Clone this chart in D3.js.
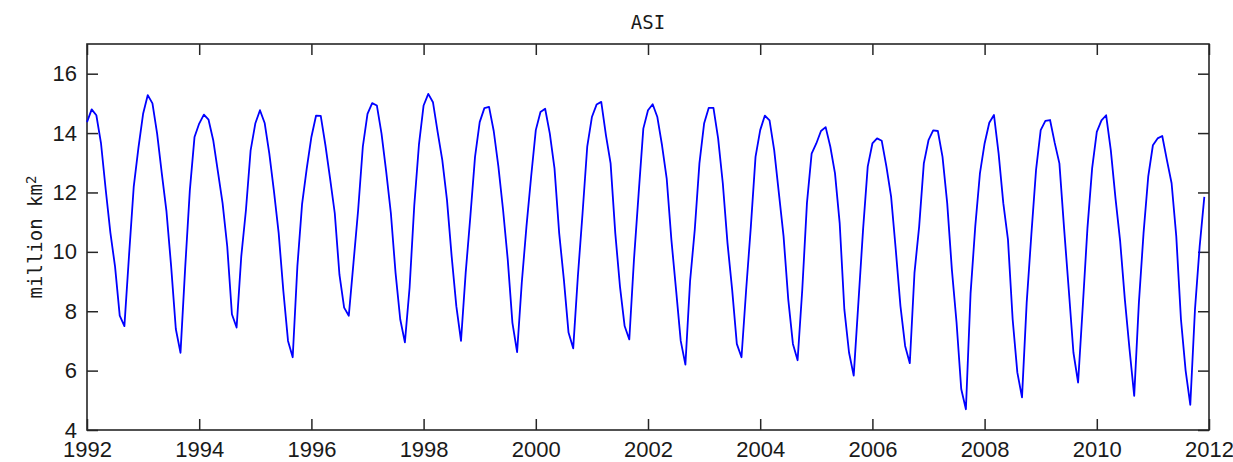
<!DOCTYPE html>
<html>
<head>
<meta charset="utf-8">
<script src="https://cdn.jsdelivr.net/npm/d3@7"></script>
<style>
  html, body { margin: 0; padding: 0; background: #fff; }
  svg { display: block; }
</style>
</head>
<body>
<svg id="chart" width="1233" height="462"></svg>
<script>
'use strict';

// Monthly extent (million km2), Jan..Dec
const y1992 = [14.37, 14.80, 14.60, 13.65, 12.10, 10.65, 9.50, 7.85, 7.50, 9.90, 12.20, 13.50];
const y1993 = [14.65, 15.28, 15.00, 13.98, 12.64, 11.36, 9.51, 7.40, 6.60, 9.46, 12.08, 13.87];
const y1994 = [14.32, 14.62, 14.45, 13.76, 12.70, 11.64, 10.18, 7.90, 7.45, 9.85, 11.41, 13.42];
const y1995 = [14.32, 14.77, 14.34, 13.31, 12.03, 10.63, 8.68, 7.00, 6.45, 9.51, 11.60, 12.80];
const y1996 = [13.87, 14.59, 14.58, 13.59, 12.47, 11.30, 9.23, 8.12, 7.85, 9.63, 11.41, 13.54];
const y1997 = [14.65, 15.01, 14.93, 13.98, 12.70, 11.30, 9.29, 7.73, 6.95, 8.79, 11.55, 13.60];
const y1998 = [14.93, 15.32, 15.04, 14.04, 13.09, 11.75, 9.85, 8.17, 7.00, 9.29, 11.19, 13.20];
const y1999 = [14.37, 14.84, 14.88, 14.07, 12.87, 11.41, 9.74, 7.61, 6.62, 8.96, 10.85, 12.53];
const y2000 = [14.10, 14.71, 14.82, 13.98, 12.81, 10.63, 9.07, 7.28, 6.75, 9.18, 11.30, 13.54];
const y2001 = [14.54, 14.96, 15.05, 13.93, 12.98, 10.63, 8.84, 7.50, 7.05, 9.74, 11.97, 14.15];
const y2002 = [14.77, 14.97, 14.54, 13.59, 12.47, 10.41, 8.73, 7.00, 6.20, 9.01, 10.74, 12.98];
const y2003 = [14.32, 14.85, 14.85, 13.82, 12.31, 10.30, 8.73, 6.90, 6.45, 8.73, 10.85, 13.20];
const y2004 = [14.10, 14.59, 14.43, 13.42, 11.97, 10.52, 8.40, 6.90, 6.35, 8.73, 11.64, 13.31];
const y2005 = [13.65, 14.07, 14.20, 13.54, 12.64, 10.97, 8.06, 6.61, 5.83, 8.28, 10.74, 12.87];
const y2006 = [13.65, 13.82, 13.74, 12.87, 11.86, 10.07, 8.17, 6.83, 6.25, 9.29, 10.85, 12.98];
const y2007 = [13.76, 14.09, 14.07, 13.20, 11.64, 9.40, 7.62, 5.38, 4.70, 8.60, 10.85, 12.64];
const y2008 = [13.65, 14.35, 14.61, 13.31, 11.64, 10.41, 7.73, 5.94, 5.10, 8.28, 10.58, 12.75];
const y2009 = [14.10, 14.41, 14.44, 13.67, 12.98, 10.80, 8.73, 6.61, 5.60, 8.17, 10.80, 12.81];
const y2010 = [14.04, 14.43, 14.60, 13.42, 11.80, 10.35, 8.40, 6.72, 5.15, 8.28, 10.63, 12.53];
const y2011 = [13.59, 13.82, 13.90, 13.09, 12.31, 10.52, 7.73, 6.00, 4.85, 8.06, 10.18, 11.85];

const years = [1992, 1993, 1994, 1995, 1996, 1997, 1998, 1999, 2000, 2001,
               2002, 2003, 2004, 2005, 2006, 2007, 2008, 2009, 2010, 2011];
const seasons = [y1992, y1993, y1994, y1995, y1996, y1997, y1998, y1999, y2000, y2001,
                 y2002, y2003, y2004, y2005, y2006, y2007, y2008, y2009, y2010, y2011];

const xTicks = [1992, 1994, 1996, 1998, 2000, 2002, 2004, 2006, 2008, 2010, 2012];
const yTicks = [4, 6, 8, 10, 12, 14, 16];

// flatten to (decimal year, value) pairs
const points = [];
years.forEach(function(yr, i) {
  seasons[i].forEach(function(v, m) { points.push([yr + m / 12, v]); });
});

const margin = {left: 87, right: 24, top: 44, bottom: 32},
  W = 1233, H = 462,
  iw = W - margin.left - margin.right,
  ih = H - margin.top - margin.bottom;

const svg = d3.select('#chart');
const g = svg.append('g').attr('transform', 'translate(' + margin.left + ',' + margin.top + ')');

const x = d3.scaleLinear().domain([1992, 2012]).range([0, iw]);
const y = d3.scaleLinear().domain([4, 17]).range([ih, 0]);

const tickLen = 11,
  tickFont = '"Liberation Sans", Arial, sans-serif',
  monoFont = '"DejaVu Sans Mono", monospace';

function styleAxis(sel, labels) {
  sel.select('.domain').remove();
  sel.selectAll('.tick line').attr('stroke', '#262626').attr('stroke-width', 1.5);
  sel.selectAll('.tick text')
    .attr('fill', '#1a1a1a')
    .style('font-family', tickFont)
    .style('font-size', '22px');
  if (!labels) sel.selectAll('.tick text').remove();
}

// bottom + top
g.append('g').attr('transform', 'translate(0,' + ih + ')')
  .call(d3.axisBottom(x).tickValues(xTicks).tickFormat(d3.format('d'))
    .tickSizeInner(-tickLen).tickSizeOuter(0).tickPadding(11))
  .call(styleAxis, true);
g.append('g')
  .call(d3.axisTop(x).tickValues(xTicks).tickSizeInner(-tickLen).tickSizeOuter(0))
  .call(styleAxis, false);

// left + right
g.append('g')
  .call(d3.axisLeft(y).tickValues(yTicks).tickFormat(d3.format('d'))
    .tickSizeInner(-tickLen).tickSizeOuter(0).tickPadding(10))
  .call(styleAxis, true);
g.append('g').attr('transform', 'translate(' + iw + ',0)')
  .call(d3.axisRight(y).tickValues(yTicks).tickSizeInner(-tickLen).tickSizeOuter(0))
  .call(styleAxis, false);

// frame
g.append('rect')
  .attr('width', iw).attr('height', ih)
  .attr('fill', 'none')
  .attr('stroke', '#262626')
  .attr('stroke-width', 1.6);

// series
const line = d3.line()
  .x(function(d) { return x(d[0]); })
  .y(function(d) { return y(d[1]); });

g.append('path')
  .datum(points)
  .attr('fill', 'none')
  .attr('stroke', '#0000ff')
  .attr('stroke-width', 1.8)
  .attr('stroke-linejoin', 'round')
  .attr('d', line);

// title
svg.append('text')
  .attr('x', margin.left + iw / 2)
  .attr('y', 29)
  .attr('text-anchor', 'middle')
  .attr('fill', '#1a1a1a')
  .style('font-family', monoFont)
  .style('font-size', '19px')
  .text('ASI');

// y label
const yl = svg.append('text')
  .attr('transform', 'translate(42,' + (margin.top + ih / 2) + ') rotate(-90)')
  .attr('text-anchor', 'middle')
  .attr('fill', '#1a1a1a')
  .style('font-family', monoFont)
  .style('font-size', '19px');
yl.append('tspan').text('million km');
yl.append('tspan').attr('dy', '-0.45em').style('font-size', '14px').text('2');
</script>
</body>
</html>
